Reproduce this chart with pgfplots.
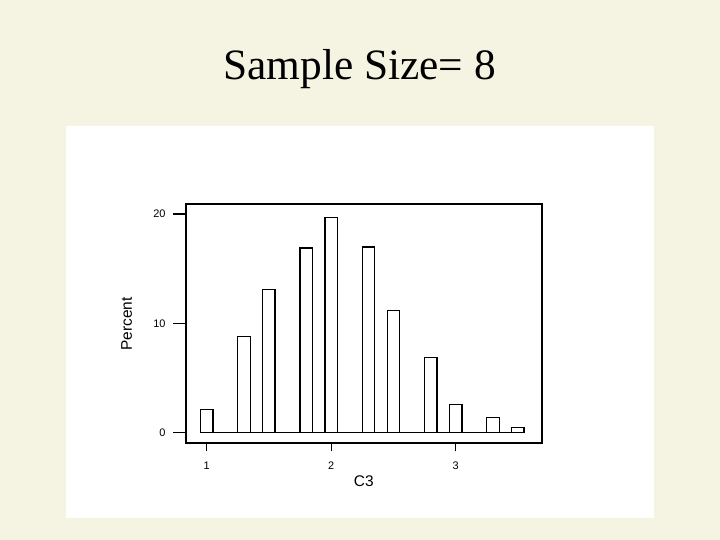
\documentclass[border=0pt]{standalone}
\usepackage{fontspec}
\setmainfont{Liberation Serif}
\newfontfamily\arial{Liberation Sans}
\usepackage{pgfplots}
\pgfplotsset{compat=1.18}
\definecolor{bgbeige}{RGB}{245,243,225}
\begin{document}
\begin{tikzpicture}[x=1bp,y=1bp]
\fill[bgbeige] (0,0) rectangle (720,540);
\useasboundingbox (0,0) rectangle (720,540);
\fill[white] (66,22) rectangle (654,414);
\node[font=\fontsize{43.5}{48}\selectfont, anchor=base] at (359.5,460.7) {Sample Size= 8};
\begin{axis}[
  at={(186bp,96.7bp)}, anchor=south west,
  scale only axis, width=355.7bp, height=239bp,
  xmin=0.834, xmax=3.691, ymin=-0.97, ymax=20.9,
  xtick={1,2,3}, ytick={0,10,20},
  xtick pos=left, ytick pos=left,
  tick align=outside,
  major tick length=13bp,
  xtick style={/pgfplots/major tick length=8bp},
  tick style={black, line width=1.3bp},
  axis line style={line width=1.6bp},
  /pgf/number format/assume math mode=true,
  tick label style={font=\arial\fontsize{11}{13}\selectfont},
  yticklabel style={xshift=-4bp},
  xticklabel style={yshift=-2bp},
  xlabel={C3}, ylabel={Percent},
  label style={font=\arial\fontsize{15.5}{18}\selectfont},
  xlabel style={at={(axis description cs:0.5,0)}, anchor=center, yshift=-38bp},
  ylabel style={at={(axis description cs:0,0.5)}, anchor=center},
  every axis y label/.append style={yshift=59.3bp},
]
\addplot[ybar interval, fill=white, draw=black, line width=1.35bp] coordinates {
(0.95,2.1) (1.05,0) (1.15,0) (1.25,8.8) (1.35,0) (1.45,13.1) (1.55,0) (1.65,0)
(1.75,16.9) (1.85,0) (1.95,19.7) (2.05,0) (2.15,0) (2.25,17.0) (2.35,0)
(2.45,11.2) (2.55,0) (2.65,0) (2.75,6.9) (2.85,0) (2.95,2.6) (3.05,0)
(3.15,0) (3.25,1.4) (3.35,0) (3.45,0.5) (3.55,0)
};
\end{axis}
\end{tikzpicture}
\end{document}
